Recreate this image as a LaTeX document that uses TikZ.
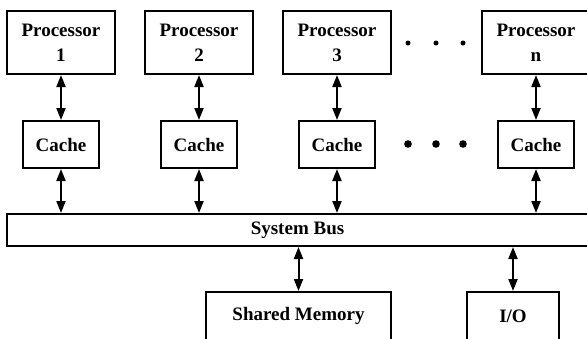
\documentclass[tikz,border=0pt]{standalone}
\usepackage{fontspec}
\setmainfont{Liberation Serif}
\usetikzlibrary{arrows.meta, positioning}
\tikzset{
    unit_box/.style={
        rectangle, draw=black, line width=2pt, fill=white,
        align=center, font=\fontsize{19}{25}\selectfont\bfseries,
        inner sep=0pt
    },
    proc_box/.style={unit_box, minimum width=108pt, minimum height=63pt},
    cache_box/.style={unit_box, minimum width=76pt, minimum height=47pt},
    bus_box/.style={unit_box, minimum width=581pt, minimum height=32pt},
    dev_box/.style={unit_box, minimum height=48pt},
    bus_arrow/.style={
        {Triangle[length=12pt,width=9pt]}-{Triangle[length=12pt,width=9pt]},
        line width=2pt, draw=black
    }
}

\begin{document}
\begin{tikzpicture}[x=1pt, y=-1pt]
    \useasboundingbox (0,0) rectangle (587,338);
    \clip (0,0) rectangle (587,338);

    % Processors
    \node[proc_box] (proc1) at (61, 42.5) {Processor\\1};
    \node[proc_box] (proc2) at (199, 42.5) {Processor\\2};
    \node[proc_box] (proc3) at (337, 42.5) {Processor\\3};
    \node[proc_box] (procn) at (536, 42.5) {Processor\\n};

    % Caches
    \node[cache_box] (cache1) at (61, 144.5) {Cache};
    \node[cache_box] (cache2) at (199, 144.5) {Cache};
    \node[cache_box] (cache3) at (337, 144.5) {Cache};
    \node[cache_box] (cachen) at (536, 144.5) {Cache};

    % Ellipses
    \foreach \x in {408, 436, 463} {
        \fill (\x, 43) circle (2.5pt);
        \fill (\x, 144) circle (3.8pt);
    }

    % Bus and devices
    \node[bus_box] (bus) at (297.5, 230) {System Bus};
    \node[dev_box, minimum width=185pt] (mem) at (298.5, 316) {Shared Memory};
    \node[dev_box, minimum width=92pt] (io) at (513, 316) {I/O};

    % Connectors
    \foreach \n in {1, 2, 3, n} {
        \draw[bus_arrow] (proc\n) -- (cache\n);
        \draw[bus_arrow] (cache\n) -- (cache\n |- bus.north);
    }
    \draw[bus_arrow] (mem |- bus.south) -- (mem);
    \draw[bus_arrow] (io |- bus.south) -- (io);
\end{tikzpicture}
\end{document}
